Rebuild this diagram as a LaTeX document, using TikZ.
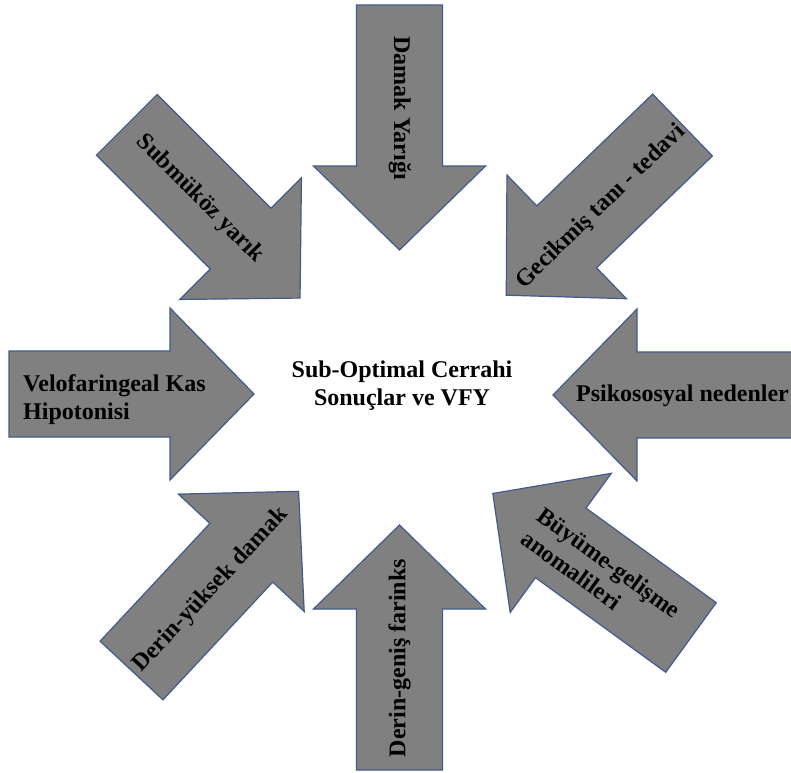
\documentclass[tikz,border=0pt]{standalone}
\usepackage{fontspec}
\setmainfont{Liberation Serif}
\definecolor{arrowfill}{RGB}{128,128,128}
\definecolor{arrowedge}{RGB}{68,90,140}
\tikzset{
  arrowshape/.style={fill=arrowfill, draw=arrowedge, line width=1.2pt, line join=miter},
  bigarrow/.pic={\draw[arrowshape] (0,-43) -- (161,-43) -- (161,-86) -- (245,0) -- (161,86) -- (161,43) -- (0,43) -- cycle;},
  lbl/.style={font=\bfseries\fontsize{24}{28}\selectfont, inner sep=0pt, text=black},
}
\begin{document}
\begin{tikzpicture}[x=1pt,y=1pt]
\useasboundingbox (0,0) rectangle (791,-772);
\clip (0,0) rectangle (791,-772);
% arrows
\pic[rotate=-90] (aTop) at (399.5,-5) {bigarrow};
\pic[rotate=90] (aBottom) at (399.5,-770) {bigarrow};
\pic[rotate=0] (aLeft) at (9,-394) {bigarrow};
\pic[rotate=180] (aRight) at (798,-395) {bigarrow};
\pic[rotate=-45] (aTL) at (126.8,-124.8) {bigarrow};
\pic[rotate=-136] (aTR) at (682.5,-125) {bigarrow};
\pic[rotate=47] (aBL) at (131.5,-670.5) {bigarrow};
\pic[rotate=144] (aBR) at (691,-637.5) {bigarrow};
% labels
\node[lbl, rotate=-90] (tDamak) at (400,-108) {Damak Yarığı};
\node[lbl, rotate=90] (tFarinks) at (399.5,-658) {Derin-geniş farinks};
\node[lbl, rotate=-45] (tSub) at (200,-199) {Submüköz yarık};
\node[lbl, rotate=44] (tGecik) at (601,-207) {Gecikmiş tanı - tedavi};
\node[lbl, rotate=47] (tDerin) at (211,-590) {Derin-yüksek damak};
\node[lbl, rotate=-36, align=left] (tBuyume) at (601,-574) {Büyüme-gelişme\\anomalileri};
\node[lbl, align=left, anchor=west] (tVelo) at (23,-400) {Velofaringeal Kas\\Hipotonisi};
\node[lbl, anchor=base west] (tPsiko) at (576,-401) {Psikososyal nedenler};
\node[lbl, align=center] (tCenter) at (402,-386) {Sub-Optimal Cerrahi\\Sonuçlar ve VFY};
\end{tikzpicture}
\end{document}
